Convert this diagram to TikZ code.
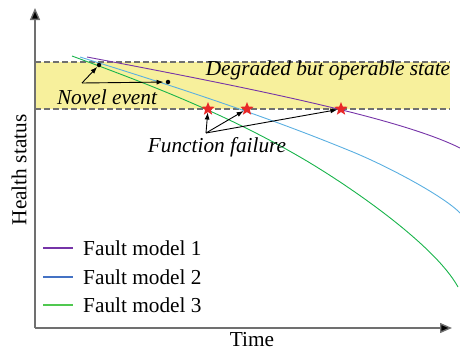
\documentclass[tikz,border=0pt]{standalone}
\usepackage{fontspec}
\setmainfont{Liberation Serif}[ItalicFont={Liberation Serif Italic}]
\usetikzlibrary{arrows.meta,shapes.geometric}
\newcommand{\labelsize}{\fontsize{21.3}{25}\selectfont}
\definecolor{bandyellow}{RGB}{247,240,156}
\definecolor{axisgray}{RGB}{112,112,112}
\definecolor{modelpurple}{RGB}{118,52,168}
\definecolor{modelblue}{RGB}{90,175,225}
\definecolor{modelgreen}{RGB}{25,180,75}
\definecolor{keyblue}{RGB}{68,114,196}
\definecolor{keygreen}{RGB}{80,200,80}
\definecolor{starred}{RGB}{232,40,40}
\tikzset{
  axis/.style={line width=1.4pt, draw=axisgray, -{Triangle[length=12pt,width=10pt,fill=black]}},
  limit/.style={line width=1.4pt, draw=axisgray, dash pattern=on 6pt off 3pt},
  model/.style={line width=0.9pt},
  keyline/.style={line width=1.5pt},
  failstar/.style={star, star points=5, star point ratio=2.3, fill=starred, draw=none, minimum size=14pt, inner sep=0pt},
  eventdot/.style={circle, fill=black, minimum size=4.5pt, inner sep=0pt},
  arrow/.style={-{Latex[length=7pt,width=5pt]}, line width=0.9pt},
  note/.style={font=\labelsize\itshape, inner sep=0pt},
  keytext/.style={anchor=west, inner sep=0pt}
}

\begin{document}
\begin{tikzpicture}[x=1pt, y=-1pt, font=\labelsize]
  \useasboundingbox (0,0) rectangle (460,351);
  % degraded band
  \fill[bandyellow] (35,62) rectangle (450,109);
  \draw[limit] (35,62) -- (450,62);
  \draw[limit] (35,109) -- (450,109);
  % axes
  \coordinate (origin) at (35,328);
  \coordinate (ytop) at (35,8);
  \coordinate (xend) at (452,328);
  \draw[axis] (origin) -- (ytop);
  \draw[axis] (origin) -- (xend);
  \node[rotate=90, inner sep=0pt] (ylab) at (19,170) {Health status};
  \node[inner sep=0pt] (xlab) at (252,340) {Time};
  % fault models
  \draw[model, modelpurple] (87,57) .. controls (250,88) and (400,118) .. (460,148);
  \draw[model, modelblue] (80,57) .. controls (170,85) and (260,114) .. (348,150)
    .. controls (388,166) and (445,197) .. (460,213);
  \draw[model, modelgreen] (72,56) .. controls (148,84) and (224,113) .. (300,157)
    .. controls (350,186) and (435,245) .. (458,287);
  % novel event
  \node[eventdot] (ev1) at (99,65) {};
  \node[eventdot] (ev2) at (168,82) {};
  \coordinate (evroot) at (82,83);
  \draw[arrow] (evroot) -- (ev1);
  \draw[arrow, shorten >=2pt] (evroot) -- (ev2);
  \node[note] (novel) at (107,97) {Novel event};
  \node[note] (degraded) at (328,70) {Degraded but operable state};
  % function failure
  \node[failstar] (fail1) at (208,109) {};
  \node[failstar] (fail2) at (247,109) {};
  \node[failstar] (fail3) at (341,109) {};
  \coordinate (failroot) at (206,133);
  \draw[arrow] (failroot) -- (fail1);
  \draw[arrow] (failroot) -- (fail2);
  \draw[arrow] (failroot) -- (fail3);
  \node[note] (failure) at (217,147) {Function failure};
  % legend
  \draw[keyline, modelpurple] (43,248) -- (73,248);
  \draw[keyline, keyblue] (43,277) -- (73,277);
  \draw[keyline, keygreen] (43,305) -- (73,305);
  \node[keytext] (key1) at (83,248) {Fault model 1};
  \node[keytext] (key2) at (83,277) {Fault model 2};
  \node[keytext] (key3) at (83,305) {Fault model 3};
\end{tikzpicture}
\end{document}
